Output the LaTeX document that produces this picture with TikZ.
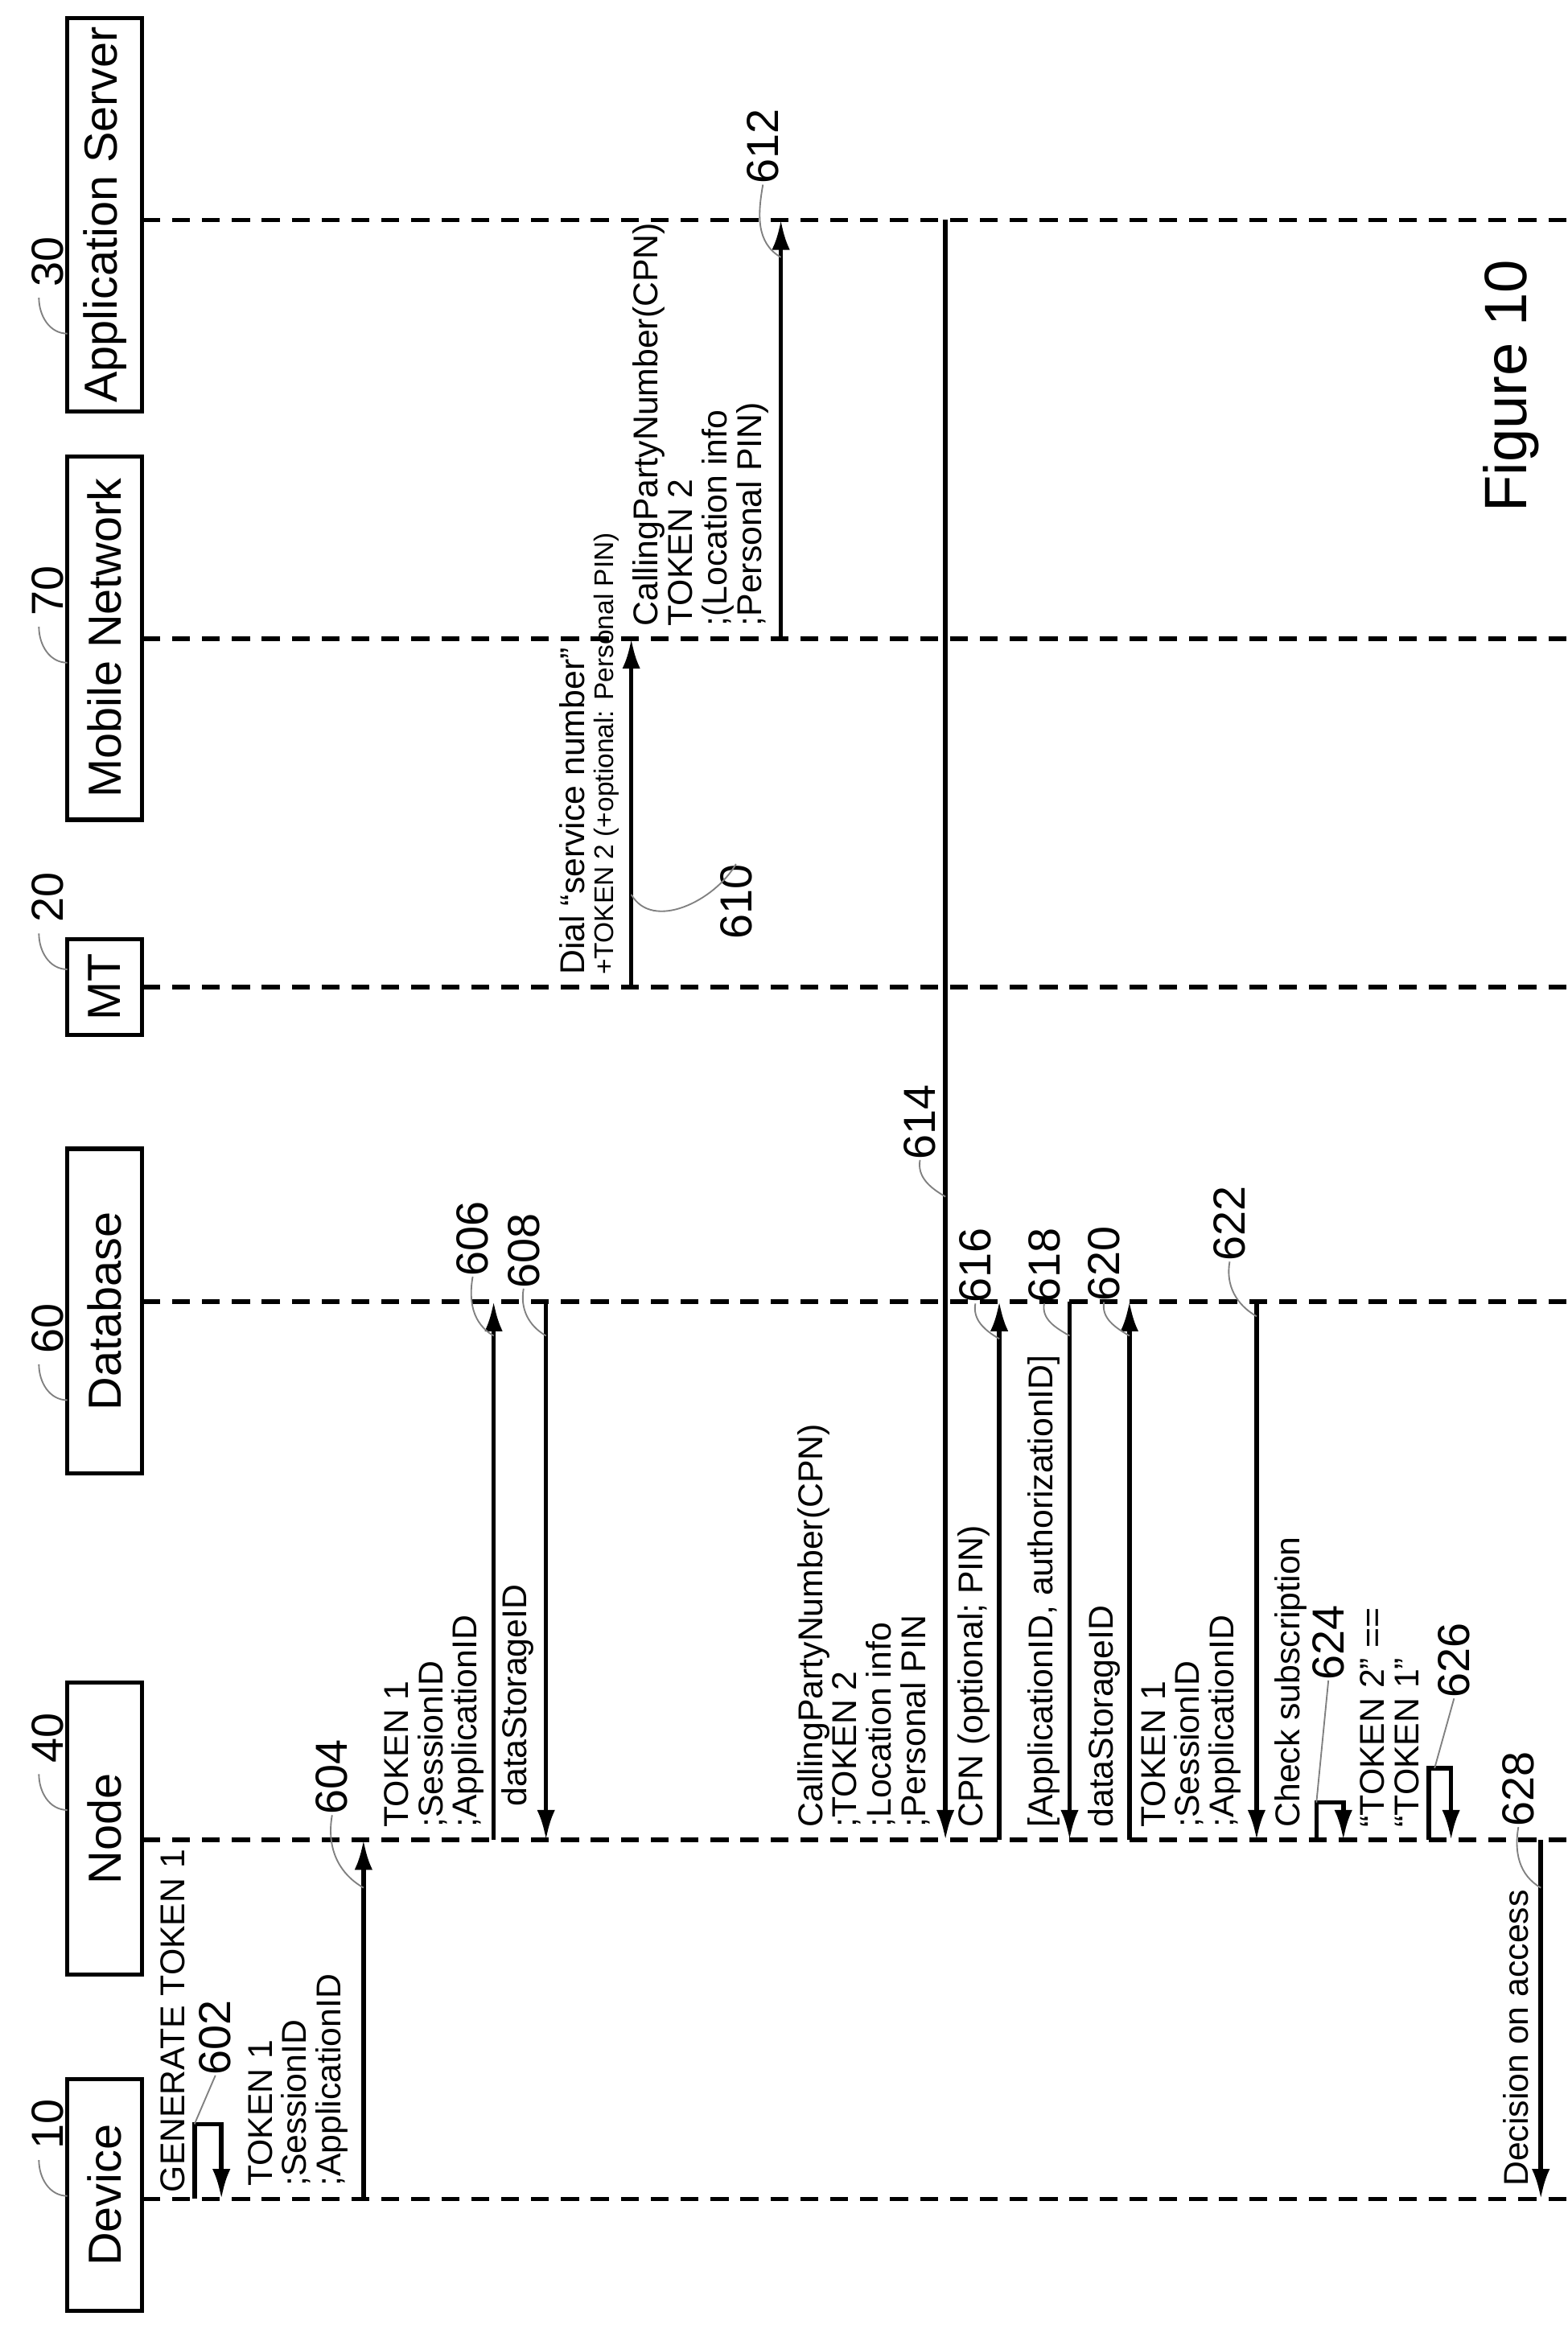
\documentclass[tikz,border=0pt]{standalone}
\usepackage{fontspec}
\setmainfont{Liberation Sans}
\usetikzlibrary{arrows.meta}
\tikzset{
	actor/.style={draw,line width=1.4pt,rotate=90,minimum height=25pt,inner sep=0pt,font=\fontsize{15.5}{16}\selectfont},
	life/.style={line width=1.5pt,dash pattern=on 6pt off 4pt},
	msg/.style={line width=1.5pt,-{Latex[length=10pt,width=6pt]}},
	lbl/.style={rotate=90,anchor=south west,align=left,inner sep=1pt,font=\fontsize{11.5}{11.5}\selectfont},
	refno/.style={rotate=90,inner sep=0pt,font=\fontsize{15}{16}\selectfont},
	hook/.style={gray,line width=0.5pt}
}
\begin{document}
\begin{tikzpicture}[x=0.5pt,y=-0.5pt]
	\useasboundingbox (0,0) rectangle (1048,1565);

	% actors
	\node[actor,minimum width=131.5pt] (as) at (70,143.5) {Application Server};
	\node[actor,minimum width=121.5pt] (mn) at (70,426.5) {Mobile Network};
	\node[actor,minimum width=32pt] (mt) at (70,660) {MT};
	\node[actor,minimum width=108.5pt] (db) at (70,876.5) {Database};
	\node[actor,minimum width=97.5pt] (nd) at (70,1222.5) {Node};
	\node[actor,minimum width=77.5pt] (dev) at (70,1467.5) {Device};

	\foreach \n/\y in {as/147,mn/427,mt/660,db/870,nd/1230,dev/1470}{
		\coordinate (\n L) at (95,\y);
		\draw[life] (\n L) -- (1048,\y);
	}
	\foreach \y/\c in {175/30,395/70,600/20,888/60,1162/40,1420/10}{
		\node[refno] (r\c) at (32,\y) {\c};
		\draw[hook] (26,\y+24) to[out=-90,in=180] (45,\y+48);
	}

	% message positions
	\foreach \n/\x in {604/243,606/330,608/365,610/422,612/522,614/632,616/668,618/715,620/755,622/840,628/1030}
		\coordinate (m\n) at (\x,0);
	\coordinate (l602) at (130,1420);
	\coordinate (l624) at (880,1205);
	\coordinate (l626) at (955,1182);

	% messages
	\draw[msg] (l602 |- devL) -- (l602) -- ++(18,0) -- ++(0,50);
	\draw[msg] (m604 |- devL) -- (m604 |- ndL);
	\draw[msg] (m606 |- ndL) -- (m606 |- dbL);
	\draw[msg] (m608 |- dbL) -- (m608 |- ndL);
	\draw[msg] (m610 |- mtL) -- (m610 |- mnL);
	\draw[msg] (m612 |- mnL) -- (m612 |- asL);
	\draw[msg] (m614 |- asL) -- (m614 |- ndL);
	\draw[msg] (m616 |- ndL) -- (m616 |- dbL);
	\draw[msg] (m618 |- dbL) -- (m618 |- ndL);
	\draw[msg] (m620 |- ndL) -- (m620 |- dbL);
	\draw[msg] (m622 |- dbL) -- (m622 |- ndL);
	\draw[msg] (l624 |- ndL) -- (l624) -- ++(18,0) -- ++(0,25);
	\draw[msg] (l626 |- ndL) -- (l626) -- ++(15,0) -- ++(0,48);
	\draw[msg] (m628 |- ndL) -- (m628 |- devL);

	% labels
	\node[lbl] (t602) at ([xshift=-2pt,yshift=1pt]l602 |- devL) {GENERATE TOKEN 1};
	\node[lbl] (t604) at ([xshift=-4pt,yshift=3pt]m604 |- devL) {TOKEN 1\\;SessionID\\;ApplicationID};
	\node[lbl] (t606) at ([xshift=-2pt,yshift=3pt]m606 |- ndL) {TOKEN 1\\;SessionID\\;ApplicationID};
	\node[lbl] (t608) at ([xshift=-3pt,yshift=10pt]m608 |- ndL) {dataStorageID};
	\node[lbl] (t610) at ([xshift=-3pt,yshift=3pt]m610 |- mtL) {Dial “service number”\\[-2pt]{\fontsize{9}{10}\selectfont +TOKEN 2 (+optional: Personal PIN)}};
	\node[lbl] (t612) at ([xshift=-3pt,yshift=3pt]m612 |- mnL) {CallingPartyNumber(CPN)\\TOKEN 2\\;(Location info\\;Personal PIN)};
	\node[lbl] (t614) at ([xshift=-4pt,yshift=3pt]m614 |- ndL) {CallingPartyNumber(CPN)\\;TOKEN 2\\;Location info\\;Personal PIN};
	\node[lbl] (t616) at ([xshift=-2pt,yshift=3pt]m616 |- ndL) {CPN (optional; PIN)};
	\node[lbl] (t618) at ([xshift=-2pt,yshift=3pt]m618 |- ndL) {[ApplicationID, authorizationID]};
	\node[lbl] (t620) at ([xshift=-2pt,yshift=3pt]m620 |- ndL) {dataStorageID};
	\node[lbl] (t622) at ([xshift=-4pt,yshift=3pt]m622 |- ndL) {TOKEN 1\\;SessionID\\;ApplicationID};
	\node[lbl] (t624) at ([xshift=-2pt,yshift=3pt]l624 |- ndL) {Check subscription};
	\node[lbl] (t626) at ([xshift=-2pt,yshift=3pt]l626 |- ndL) {“TOKEN 2” ==\\“TOKEN 1”};
	\node[lbl] (t628) at ([xshift=-3pt,yshift=3pt]m628 |- devL) {Decision on access};

	% reference numbers
	\foreach \n/\x/\y in {602/144/1362,604/222/1188,606/316/828,608/350/836,610/492/603,612/510/98,614/615/750,616/652/846,618/698/846,620/738/845,622/822/818,624/888/1098,626/972/1110,628/1015/1196}
		\node[refno] (n\n) at (\x,\y) {\n};
	\draw[hook] (n602.west) -- (l602);
	\draw[hook] (n604.west) to[out=-100,in=150] (m604 |- 0,1262);
	\draw[hook] (n606.west) to[out=-100,in=150] (m606 |- 0,893);
	\draw[hook] (n608.west) to[out=-100,in=150] (m608 |- 0,893);
	\draw[hook] (m610 |- 0,598) to[out=-60,in=-120] (n610.east);
	\draw[hook] (n612.west) to[out=-100,in=150] (m612 |- 0,172);
	\draw[hook] (n614.west) to[out=-100,in=150] (m614 |- 0,800);
	\draw[hook] (n616.west) to[out=-100,in=150] (m616 |- 0,895);
	\draw[hook] (n618.west) to[out=-100,in=150] (m618 |- 0,893);
	\draw[hook] (n620.west) to[out=-100,in=150] (m620 |- 0,893);
	\draw[hook] (n622.west) to[out=-100,in=150] (m622 |- 0,880);
	\draw[hook] (n624.west) -- (l624);
	\draw[hook] (n626.west) -- ([xshift=2pt]l626);
	\draw[hook] (n628.west) to[out=-100,in=150] (m628 |- 0,1262);

	\node[rotate=90,font=\fontsize{20}{21}\selectfont] (fig) at (1010,258) {Figure 10};
\end{tikzpicture}
\end{document}
